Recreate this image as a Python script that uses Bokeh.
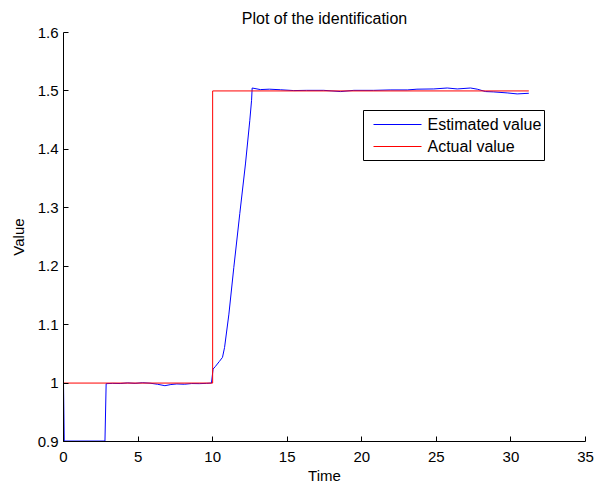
from bokeh.plotting import figure
from bokeh.models import Range1d, FixedTicker, BoxAnnotation, Arrow, Label
from bokeh.embed import file_html
from bokeh.resources import INLINE

# Estimated value from the identification run
est_time = [0.0, 0.05, 2.78, 2.86, 3.3, 3.8, 4.3, 4.8, 5.3, 5.8, 6.3, 6.8, 7.2, 7.6,
            8.1, 8.6, 9.1, 9.6, 9.92, 10.03, 10.17, 10.45, 10.66, 10.80, 11.09, 11.42,
            11.82, 12.20, 12.49, 12.61, 12.65, 13.2, 13.8, 14.55, 15.44, 16.3, 17.45,
            18.0, 18.57, 19.47, 20.8, 21.9, 23.05, 23.7, 24.83, 25.73, 26.4, 27.29,
            27.74, 28.3, 28.85, 29.75, 30.42, 31.2]
est_value = [1.0, 0.9008, 0.9008, 0.999, 0.9995, 0.9992, 1.0003, 0.9995, 1.0006, 0.9998,
             0.998, 0.9955, 0.9975, 0.9985, 0.998, 0.9992, 0.999, 0.9995, 1.0, 1.024,
             1.028, 1.037, 1.044, 1.061, 1.118, 1.198, 1.290, 1.375, 1.449, 1.484,
             1.505, 1.5023, 1.5030, 1.502, 1.5006, 1.501, 1.501, 1.500, 1.4989, 1.501,
             1.501, 1.5017, 1.5017, 1.503, 1.5034, 1.505, 1.5034, 1.505, 1.503, 1.4989,
             1.4983, 1.4966, 1.4949, 1.496]

# Actual (true) parameter value: a step from 1 to 1.5 at t = 10
act_time = [0.0, 10.0, 10.0, 31.2]
act_value = [1.0, 1.0, 1.5, 1.5]

x_ticks = [0, 5, 10, 15, 20, 25, 30, 35]
y_ticks = [0.9, 1.0, 1.1, 1.2, 1.3, 1.4, 1.5, 1.6]
y_tick_labels = ["0.9", "1", "1.1", "1.2", "1.3", "1.4", "1.5", "1.6"]

series_labels = ["Estimated value", "Actual value"]
series_colors = ["#0000ff", "#ff0000"]

FONT = "Liberation Sans"

p = figure(width=594, height=489, output_backend="svg", toolbar_location=None,
           x_range=Range1d(0, 35), y_range=Range1d(0.9, 1.6),
           min_border_left=63, min_border_right=9, min_border_top=32,
           min_border_bottom=48, title="Plot of the identification")

p.title.align = "center"
p.title.vertical_align = "top"
p.title.text_font = FONT
p.title.text_font_size = "16px"
p.title.text_font_style = "normal"
p.title.text_color = "black"
p.title.standoff = 8

p.background_fill_color = "white"
p.border_fill_color = "white"
p.outline_line_color = None
p.xgrid.visible = False
p.ygrid.visible = False

for ax in (p.xaxis[0], p.yaxis[0]):
    ax.major_tick_in = 5
    ax.major_tick_out = 0
    ax.minor_tick_in = 0
    ax.minor_tick_out = 0
    ax.axis_line_color = "black"
    ax.major_tick_line_color = "black"
    ax.major_label_text_font = FONT
    ax.major_label_text_font_size = "15px"
    ax.major_label_text_color = "black"
    ax.axis_label_text_font = FONT
    ax.axis_label_text_font_size = "15px"
    ax.axis_label_text_font_style = "normal"
    ax.axis_label_text_color = "black"

p.xaxis.ticker = FixedTicker(ticks=x_ticks)
p.yaxis.ticker = FixedTicker(ticks=y_ticks)
p.yaxis.major_label_overrides = {t: s for t, s in zip(y_ticks, y_tick_labels)}
p.xaxis.axis_label = "Time"
p.yaxis.axis_label = "Value"
p.xaxis.major_label_standoff = 10
p.yaxis.major_label_standoff = 5
p.xaxis.axis_label_standoff = 2
p.yaxis.axis_label_standoff = 8

p.line(est_time, est_value, line_color=series_colors[0], line_width=1)
p.line(act_time, act_value, line_color=series_colors[1], line_width=1)

# legend box (screen units measured from the frame's bottom-left corner)
p.add_layout(BoxAnnotation(left=300, right=481, bottom=281, top=331,
                           left_units="screen", right_units="screen",
                           bottom_units="screen", top_units="screen",
                           fill_color="white", fill_alpha=1.0,
                           line_color="black", line_width=1, line_alpha=1.0))
for row, (lab, col) in enumerate(zip(series_labels, series_colors)):
    ys = 317 - 22 * row
    p.add_layout(Arrow(start=None, end=None, x_start=310, y_start=ys, x_end=358,
                       y_end=ys, start_units="screen", end_units="screen",
                       line_color=col, line_width=1))
    p.add_layout(Label(x=364, y=ys, x_units="screen", y_units="screen", text=lab,
                       text_align="left", text_baseline="middle", text_font=FONT,
                       text_font_size="16px", text_color="black"))

open("out.html", "w").write(file_html(p, INLINE))
